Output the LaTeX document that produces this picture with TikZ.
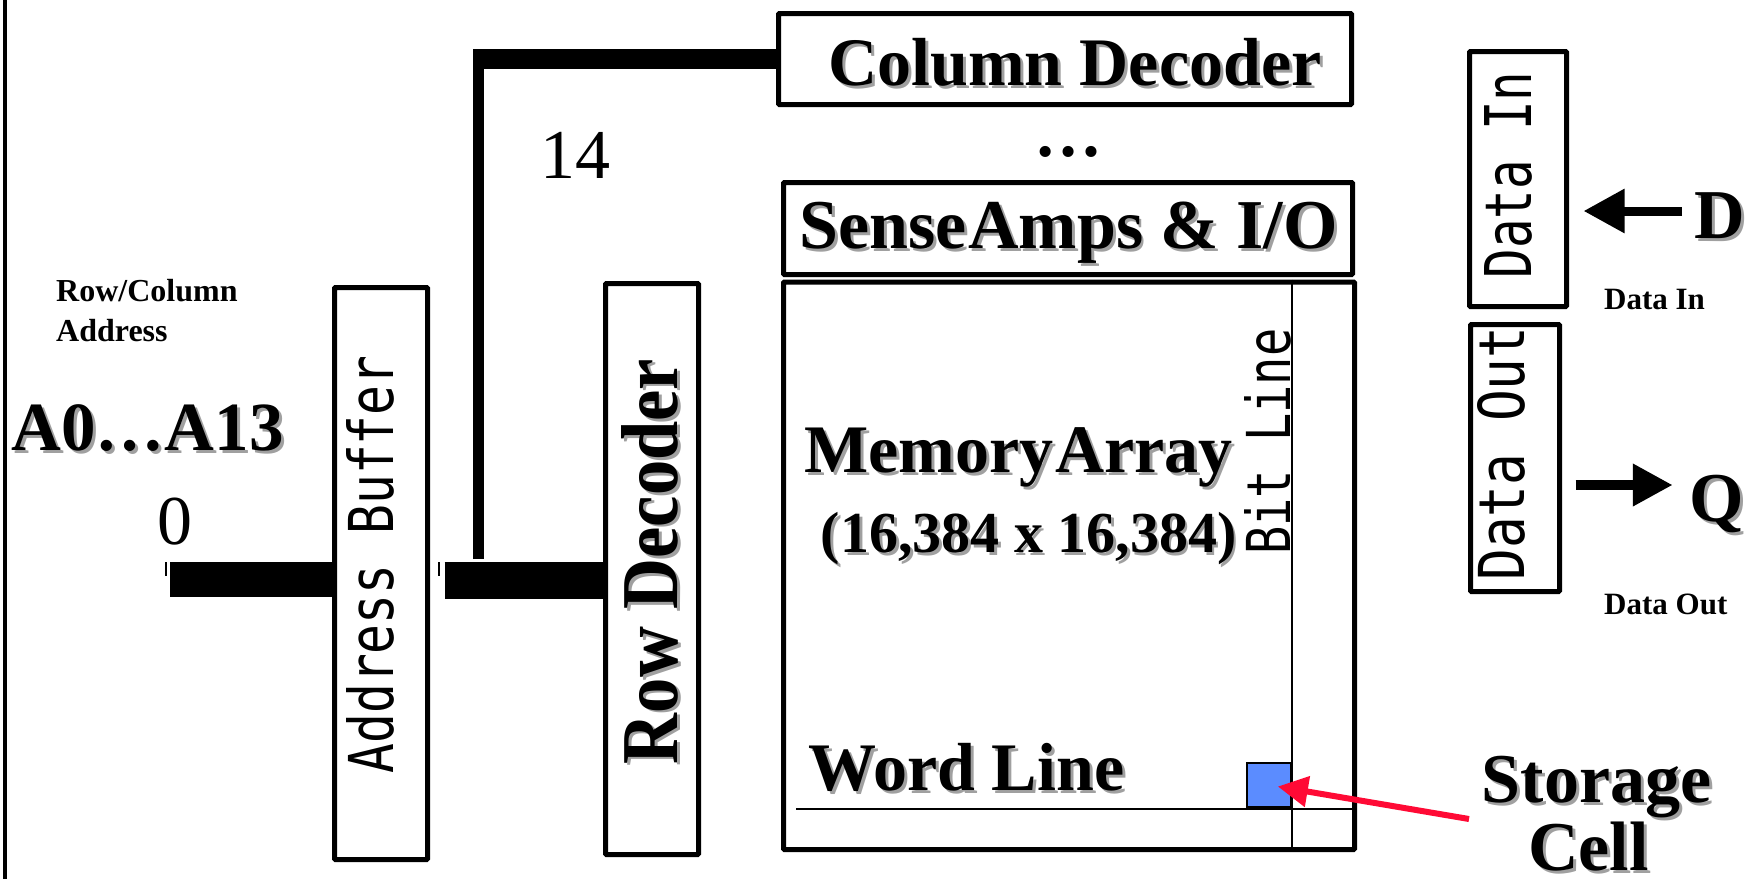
\documentclass[tikz,border=0pt]{standalone}
\usepackage{fontspec}
\setmainfont{Liberation Serif}
\newfontfamily\pixfont{DejaVu Sans Mono}
\newfontfamily\tightfont{Liberation Serif}[WordSpace=0.1]
\usetikzlibrary{arrows.meta,calc}
\definecolor{shadowgray}{HTML}{A0A0A0}
\definecolor{cellblue}{HTML}{5B8CFF}
\definecolor{arrowred}{HTML}{FF0A35}
\newcommand\shd[1]{\leavevmode\rlap{\kern3pt\raisebox{-3pt}[0pt][0pt]{\textcolor{shadowgray}{#1}}}#1}
\newcommand\shdr[1]{\leavevmode\rlap{\kern-3pt\raisebox{-3pt}[0pt][0pt]{\textcolor{shadowgray}{#1}}}#1}
\begin{document}
\begin{tikzpicture}[x=1pt,y=-1pt,
  box/.style={draw, line width=5pt, inner sep=0pt, rounded corners=1pt},
  lbl/.style={inner sep=0pt, anchor=base},
  bigbf/.style={font=\fontsize{68}{76}\selectfont\bfseries},
  bigrm/.style={font=\fontsize{70}{76}\selectfont},
  smallbf/.style={font=\fontsize{31}{38}\selectfont\bfseries},
  pix/.style={inner sep=0pt, rotate=90, font=\fontsize{60}{70}\selectfont\pixfont},
  thinline/.style={line width=2pt},
  fatarrow/.style={line width=#1, -{Triangle[length=41pt,width=42pt]}}
]
\useasboundingbox (0,0) rectangle (1754,879);
\fill[white] (0,0) rectangle (1754,879);

% left border line
\draw[line width=4pt] (5,0) -- (5,879);

% boxes
\node[box, minimum width=573pt, minimum height=91pt] (coldec) at (1065,59) {};
\node[box, minimum width=569pt, minimum height=92pt] (sense) at (1068,228.5) {};
\node[box, minimum width=571pt, minimum height=567.5pt] (mem) at (1069,565.75) {};
\node[box, minimum width=93pt, minimum height=572pt] (abuf) at (381,573.5) {};
\node[box, minimum width=93pt, minimum height=571pt] (rowdec) at (652,569) {};
\node[box, minimum width=97pt, minimum height=255pt] (datain) at (1518,179) {};
\node[box, minimum width=89pt, minimum height=267pt] (dataout) at (1515,458) {};

% storage cell
\node[draw, fill=cellblue, line width=2pt, minimum width=44pt, minimum height=44pt, inner sep=0pt] (cell) at (1269,785) {};

% bit line and word line
\coordinate (blx) at (1292,0);
\draw[thinline] (blx |- mem.north) -- (blx |- mem.south);
\coordinate (wl) at (796,809);
\draw[thinline] (wl) -- (wl -| mem.east);

% texts in boxes
\node[lbl, bigbf] (coltxt) at (1075,85) {\shd{Column Decoder}};
\node[lbl, bigbf] (dots) at (1068,156) {…};
\node[lbl, font=\fontsize{70}{78}\selectfont\bfseries] (sensetxt) at (1068.5,248) {\shd{{\tightfont Sense Amps} \& I/O}};
\node[lbl, bigbf] (memtxt) at (1018.5,472) {\shd{\tightfont Memory Array}};
\node[lbl, font=\fontsize{58}{66}\selectfont\bfseries] (sizetxt) at (1028.5,552) {\shd{(16,384 x 16,384)}};
\node[lbl, bigbf] (wordtxt) at (966.5,790) {\shd{Word Line}};
\node[pix] (bittxt) at (1267.5,441.5) {\resizebox{226pt}{46pt}{Bit Line}};
\node[pix] (abuftxt) at (370,564.5) {\resizebox{418pt}{47pt}{Address Buffer}};
\node[pix] (dintxt) at (1508.5,175) {\resizebox{207pt}{47pt}{Data In}};
\node[pix] (douttxt) at (1501.5,453.5) {\resizebox{254pt}{47pt}{Data Out}};
\node[inner sep=0pt, rotate=90, font=\fontsize{80}{90}\selectfont\bfseries] (rowtxt) at (649.5,561.5) {\resizebox{405pt}{56pt}{\shdr{Row Decoder}}};

% outside labels
\node[lbl, smallbf, anchor=base west] (dinlbl) at (1604,309) {Data In};
\node[lbl, smallbf, anchor=base west] (doutlbl) at (1604,614) {Data Out};
\node[lbl, font=\fontsize{32}{40}\selectfont\bfseries, anchor=base west, align=left] (rcaddr) at (56,341) {Row/Column\\Address};
\node[lbl, font=\fontsize{69}{76}\selectfont\bfseries] (addr) at (147.5,450) {\shd{A0…A13}};
\node[lbl, bigrm] (n14) at (575,178) {14};
\node[lbl, bigrm] (n0) at (175,544) {0};
\node[lbl, font=\fontsize{70}{76}\selectfont\bfseries] (dnode) at (1719.5,238) {\shd{D}};
\node[lbl, font=\fontsize{70}{76}\selectfont\bfseries] (qnode) at (1717,521) {\shd{Q}};
\node[lbl, font=\fontsize{70}{72}\selectfont\bfseries] (stortxt) at (1596.5,802) {\shd{Storage}};
\node[lbl, font=\fontsize{70}{72}\selectfont\bfseries] (celltxt) at (1588.5,870) {\shd{Cell}};

% address buses
\coordinate (ain) at (170,579.5);
\draw[line width=35pt] (ain) -- (ain -| abuf.west);
\coordinate (busy) at (0,580.5);
\draw[line width=37pt, shorten <=14.5pt] (abuf.east |- busy) -- (rowdec.west |- busy);
\draw[line width=1.5pt] (166,562) -- (166,576);
\draw[line width=1.5pt] (439,562) -- (439,576);
\coordinate (tap) at (478.5,559);
\draw[line width=11pt] (tap) -- ([yshift=10pt]tap |- coldec.west);
\draw[line width=20pt] ([xshift=-5.5pt]tap |- coldec.west) -- (coldec.west);

% data arrows
\coordinate (dy) at (0,211);
\draw[fatarrow=9pt, shorten <=12pt, shorten >=14.5pt] (dnode.west |- dy) -- (datain.east |- dy);
\coordinate (qy) at (0,485);
\draw[line width=10pt, -{Triangle[length=40pt,width=40pt]}, shorten <=13.5pt, shorten >=16.8pt] (dataout.east |- qy) -- (qnode.west |- qy);

% storage cell pointer
\coordinate (celltail) at (1469,819);
\draw[arrowred, line width=6pt, -{Triangle[length=30pt,width=30pt]}, shorten >=9pt] (celltail) -- (cell.center);
\end{tikzpicture}
\end{document}
